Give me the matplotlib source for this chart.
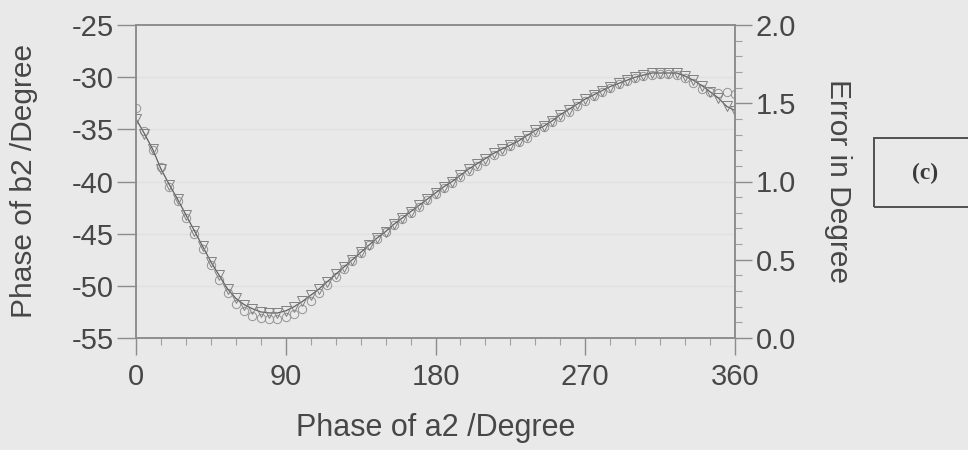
import matplotlib
matplotlib.use("Agg")
import matplotlib.pyplot as plt
from matplotlib.patches import Rectangle

# Phase of a2 (degrees) at which b2 was evaluated
phase_a2 = [0, 5, 10, 15, 20, 25, 30, 35, 40, 45, 50, 55, 60, 65, 70, 75, 80, 85,
            90, 95, 100, 105, 110, 115, 120, 125, 130, 135, 140, 145, 150, 155, 160, 165,
            170, 175, 180, 185, 190, 195, 200, 205, 210, 215, 220, 225, 230, 235, 240, 245,
            250, 255, 260, 265, 270, 275, 280, 285, 290, 295, 300, 305, 310, 315, 320, 325,
            330, 335, 340, 345, 350, 355, 360]

# Phase of b2 (degrees), first set (triangles + line)
phase_b2_tri = [-34.0, -35.4, -36.9, -38.8, -40.3, -41.7, -43.2, -44.7, -46.2, -47.7,
                -49.0, -50.3, -51.2, -51.8, -52.2, -52.5, -52.6, -52.6, -52.4, -52.0,
                -51.5, -50.9, -50.3, -49.6, -48.9, -48.2, -47.5, -46.8, -46.1, -45.4,
                -44.8, -44.1, -43.5, -42.9, -42.3, -41.7, -41.1, -40.5, -40.0, -39.4,
                -38.8, -38.3, -37.8, -37.3, -36.9, -36.5, -36.1, -35.6, -35.1, -34.7,
                -34.2, -33.6, -33.1, -32.6, -32.1, -31.7, -31.3, -30.9, -30.6, -30.3,
                -30.0, -29.8, -29.6, -29.6, -29.6, -29.6, -29.9, -30.3, -30.8, -31.4,
                -32.0, -32.8, -33.2]

# Phase of b2 (degrees), second set (circles)
phase_b2_circ = [-33.0, -35.2, -37.0, -38.6, -40.5, -41.9, -43.5, -45.0, -46.5, -48.0,
                 -49.4, -50.7, -51.7, -52.4, -52.9, -53.1, -53.2, -53.2, -53.0, -52.7,
                 -52.2, -51.5, -50.7, -49.9, -49.2, -48.4, -47.6, -46.9, -46.1, -45.5,
                 -44.8, -44.2, -43.6, -43.0, -42.4, -41.8, -41.2, -40.6, -40.1, -39.6,
                 -39.0, -38.5, -38.0, -37.5, -37.1, -36.6, -36.2, -35.8, -35.3, -34.8,
                 -34.3, -33.8, -33.3, -32.8, -32.3, -31.8, -31.4, -31.0, -30.7, -30.4,
                 -30.1, -29.9, -29.8, -29.7, -29.7, -29.8, -30.1, -30.6, -31.1, -31.4,
                 -31.5, -31.4, -31.6]

x_ticks = [0, 90, 180, 270, 360]
y_ticks = [-55, -50, -45, -40, -35, -30, -25]
err_ticks = [0.0, 0.5, 1.0, 1.5, 2.0]
err_labels = ["0.0", "0.5", "1.0", "1.5", "2.0"]

BG = "#e9e9e9"
TXT = "#474747"
AX = "#8c8c8c"

plt.rcParams["font.family"] = ["Liberation Sans", "DejaVu Sans"]
plt.rcParams["axes.unicode_minus"] = False

fig = plt.figure(figsize=(9.68, 4.5), dpi=100, facecolor=BG)
ax = fig.add_axes([136 / 968, 1 - 338 / 450, (735 - 136) / 968, (338 - 25) / 450])
ax.set_facecolor(BG)

ax.plot(phase_a2, phase_b2_circ, linestyle="none", marker="o", markersize=6,
        markerfacecolor="none", markeredgecolor="#939393", markeredgewidth=0.7)
ax.plot(phase_a2, phase_b2_tri, linestyle="-", color="#606060", linewidth=0.9,
        marker="v", markersize=6.5, markerfacecolor="none",
        markeredgecolor="#808080", markeredgewidth=0.7)

ax.set_xlim(0, 360)
ax.set_ylim(-55, -25)
ax.set_xticks(x_ticks)
ax.set_xticks(range(0, 361, 15), minor=True)
ax.set_yticks(y_ticks)
for v in y_ticks[1:-1]:
    ax.axhline(v, color="#e0e0e0", linewidth=1.0, zorder=0)

for s in ax.spines.values():
    s.set_color(AX)
    s.set_linewidth(1.1)

ax.tick_params(axis="x", which="major", length=12, width=1.0, color=AX,
               labelsize=21, labelcolor=TXT, pad=6)
ax.tick_params(axis="x", which="minor", length=5, width=0.8, color="#a0a0a0")
ax.tick_params(axis="y", which="major", length=14, width=1.0, color=AX,
               labelsize=21, labelcolor=TXT, pad=2)

ax2 = ax.twinx()
ax2.set_ylim(0.0, 2.0)
ax2.set_yticks(err_ticks)
ax2.set_yticklabels(err_labels)
ax2.set_yticks([i / 10 for i in range(21)], minor=True)
for s in ax2.spines.values():
    s.set_color(AX)
    s.set_linewidth(1.1)
ax2.tick_params(axis="y", which="major", length=12, width=1.0, color=AX,
                labelsize=21, labelcolor=TXT, pad=3)
ax2.tick_params(axis="y", which="minor", length=5, width=0.8, color="#a0a0a0")

fig.text(436 / 968, 1 - 428 / 450, "Phase of a2 /Degree", fontsize=22, color=TXT,
         ha="center", va="center")
fig.text(24 / 968, 1 - 181 / 450, "Phase of b2 /Degree", fontsize=21.5, color=TXT,
         ha="center", va="center", rotation=90)
fig.text(838 / 968, 1 - 181 / 450, "Error in Degree", fontsize=21.5, color=TXT,
         ha="center", va="center", rotation=-90)

# panel tag box on the right
box = Rectangle((874 / 968, 1 - 207 / 450), (980 - 874) / 968, (207 - 138) / 450,
                transform=fig.transFigure, fill=False, edgecolor="#505050",
                linewidth=1.4, clip_on=False)
fig.add_artist(box)
fig.text(925 / 968, 1 - 173 / 450, "(c)", fontsize=17, color="#3a3a3a",
         fontweight="bold", family=["Liberation Serif", "DejaVu Serif"],
         ha="center", va="center")

fig.savefig("out.png", dpi=100, facecolor=BG)
